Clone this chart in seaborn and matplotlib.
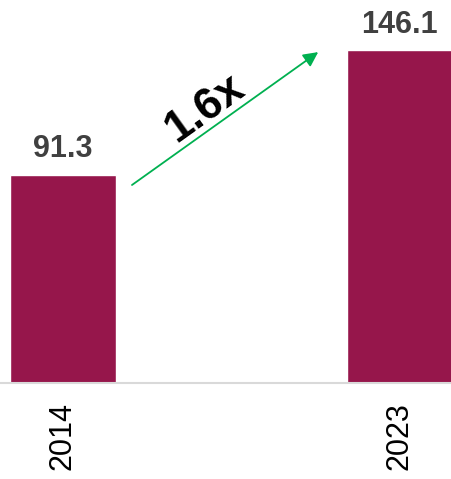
import matplotlib
matplotlib.use("Agg")
import matplotlib.pyplot as plt
import seaborn as sns
import pandas as pd

years = ["2014", "2023"]
values = [91.3, 146.1]
growth_label = "1.6x"

sns.set_theme(style="white")
plt.rcParams["font.family"] = ["Liberation Sans", "DejaVu Sans"]

df = pd.DataFrame({"year": years, "value": values})

fig = plt.figure(figsize=(4.52, 4.79), dpi=100)
ax = fig.add_axes([0, 96 / 479, 1, 383 / 479])

sns.barplot(data=df, x="year", y="value", color="#96164B", width=0.315,
            saturation=1, ax=ax)

ax.set_xlim(-0.187, 1.155)
ax.set_ylim(0, 168)
ax.set_xlabel("")
ax.set_ylabel("")
ax.set_yticks([])
for side in ("top", "right", "left"):
    ax.spines[side].set_visible(False)
ax.spines["bottom"].set_color("#D9D9D9")
ax.spines["bottom"].set_linewidth(1.5)
ax.tick_params(axis="x", length=0, pad=14, labelsize=22, labelcolor="#000000")
for lbl in ax.get_xticklabels():
    lbl.set_rotation(90)
    lbl.set_va("top")

for i, v in enumerate(values):
    ax.annotate(f"{v:.1f}", (i, v), xytext=(0, 7.5), textcoords="offset points",
                ha="center", va="bottom", fontsize=22, fontweight="bold",
                color="#404040")

# growth arrow between the two bars
ax.annotate("", xy=(0.704, 0.864), xytext=(0.292, 0.517),
            xycoords="axes fraction", textcoords="axes fraction",
            arrowprops=dict(arrowstyle="-|>", color="#00B050", lw=1.3,
                            mutation_scale=22, shrinkA=0, shrinkB=0))
ax.text(0.452, 0.716, growth_label, transform=ax.transAxes, rotation=35.6,
        rotation_mode="anchor", ha="center", va="center", fontsize=32,
        fontweight="bold", color="#000000")

fig.savefig("out.png", dpi=100)
